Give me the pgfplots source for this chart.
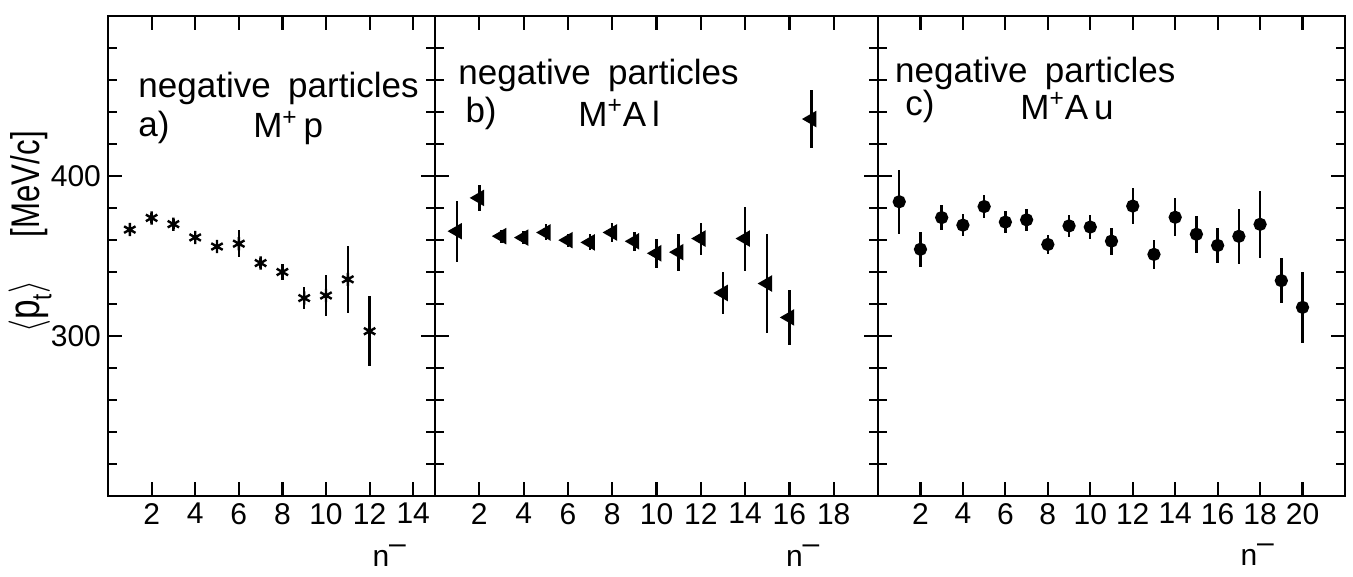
\documentclass[border=0pt]{standalone}
\usepackage{fontspec}
\setmainfont{Liberation Sans}
\usepackage{graphicx}
\usepackage{pgfplots}
\usepackage{pgfplotstable}
\pgfplotsset{compat=1.18}

\pgfplotstableread{
x y e
1 366.5 4
2 373.8 3
3 369.9 3
4 361.6 3
5 355.9 3
6 357.7 8.5
7 345.6 3
8 340 5
9 323.7 7
10 325.3 13
11 335.4 21
12 303 22
}\dataA

\pgfplotstableread{
x y e
1 365.5 19
2 386.3 8
3 362.4 4
4 361.5 4
5 364.7 5
6 359.9 4
7 358.5 5
8 364.7 6
9 359.2 6
10 351.7 9
11 352.4 11.5
12 360.9 10
13 326.9 13
14 360.9 20
15 332.8 31
16 311.6 17
17 435.6 18
}\dataB

\pgfplotstableread{
x y e
1 383.9 20
2 354.2 11
3 374 8
4 369.3 7
5 380.9 7
6 371.2 7
7 372.6 7
8 357.2 6
9 368.8 7
10 368.1 7.5
11 359.3 8.5
12 381.2 11
13 351 9
14 374.2 12
15 363.6 11.5
16 356.6 11
17 362.3 17
18 369.8 21
19 334.6 14
20 317.9 22
}\dataC

\tikzset{
  txt/.style={anchor=west, font=\fontsize{17.5}{19}\selectfont, inner sep=0pt},
  nlab/.style={anchor=center, font=\fontsize{15}{16}\selectfont},
}
\pgfplotsset{
  panel/.style={
    scale only axis, height=240pt, ymin=200, ymax=500,
    anchor=south west,
    ytick={300,400},
    minor ytick={220,240,260,280,320,340,360,380,420,440,460,480},
    tick align=inside, major tick length=7pt, minor tick length=4.5pt,
    axis line style={line width=1.2pt},
    major tick style={line width=1.1pt, black},
    minor tick style={line width=1.1pt, black},
    ticklabel style={font=\fontsize{15}{16}\selectfont},
    /pgf/number format/assume math mode=true,
    clip=false,
  },
  pts/.style={only marks, black, line width=1.2pt,
    error bars/y dir=both, error bars/y explicit, error bars/error mark=none,
    error bars/error bar style={line width=1.2pt, black}},
}

\begin{document}
\begin{tikzpicture}
\useasboundingbox (-54pt,-40.5pt) rectangle (622.5pt,248pt);

\begin{axis}[panel, at={(0pt,0pt)}, width=163.5pt,
  xmin=0, xmax=15, xtick={2,4,...,14}]
\addplot[pts, mark=asterisk, mark size=3.3pt] table[x=x, y=y, y error=e] {\dataA};
\node[txt] at (rel axis cs:0.092,0.85) {negative\hspace{0.5em}particles};
\node[txt] at (rel axis cs:0.092,0.767) {a)};
\node[txt] at (rel axis cs:0.443,0.767) {M\textsuperscript{+}\,p};
\node[nlab] at (rel axis cs:0.86,-0.125) {n\raisebox{0.8ex}{--}};
\node[rotate=90, anchor=center] at (rel axis cs:-0.2385,0.55)
  {\scalebox{0.8}[1]{\fontsize{22}{24}\selectfont$\langle$p\raisebox{-0.5ex}{\fontsize{14}{15}\selectfont t}$\rangle$}\hspace{22pt}\scalebox{0.78}[1]{\fontsize{20}{22}\selectfont[MeV/c]}};
\end{axis}

\begin{axis}[panel, at={(163.5pt,0pt)}, width=221.5pt,
  xmin=0, xmax=20, xtick={2,4,...,18}, yticklabels={}]
\addplot[pts, mark=triangle*, mark size=3.6pt, mark options={rotate=90}] table[x=x, y=y, y error=e] {\dataB};
\node[txt] at (rel axis cs:0.052,0.877) {negative\hspace{0.5em}particles};
\node[txt] at (rel axis cs:0.068,0.798) {b)};
\node[txt] at (rel axis cs:0.323,0.798) {M\textsuperscript{+}A\,l};
\node[nlab] at (rel axis cs:0.83,-0.125) {n\raisebox{0.8ex}{--}};
\end{axis}

\begin{axis}[panel, at={(385pt,0pt)}, width=233.5pt,
  xmin=0, xmax=22, xtick={2,4,...,20}, yticklabels={}]
\addplot[pts, mark=*, mark size=2.7pt] table[x=x, y=y, y error=e] {\dataC};
\node[txt] at (rel axis cs:0.036,0.88) {negative\hspace{0.5em}particles};
\node[txt] at (rel axis cs:0.058,0.812) {c)};
\node[txt] at (rel axis cs:0.304,0.812) {M\textsuperscript{+}A\,u};
\node[nlab] at (rel axis cs:0.812,-0.122) {n\raisebox{0.8ex}{--}};
\end{axis}
\end{tikzpicture}
\end{document}
